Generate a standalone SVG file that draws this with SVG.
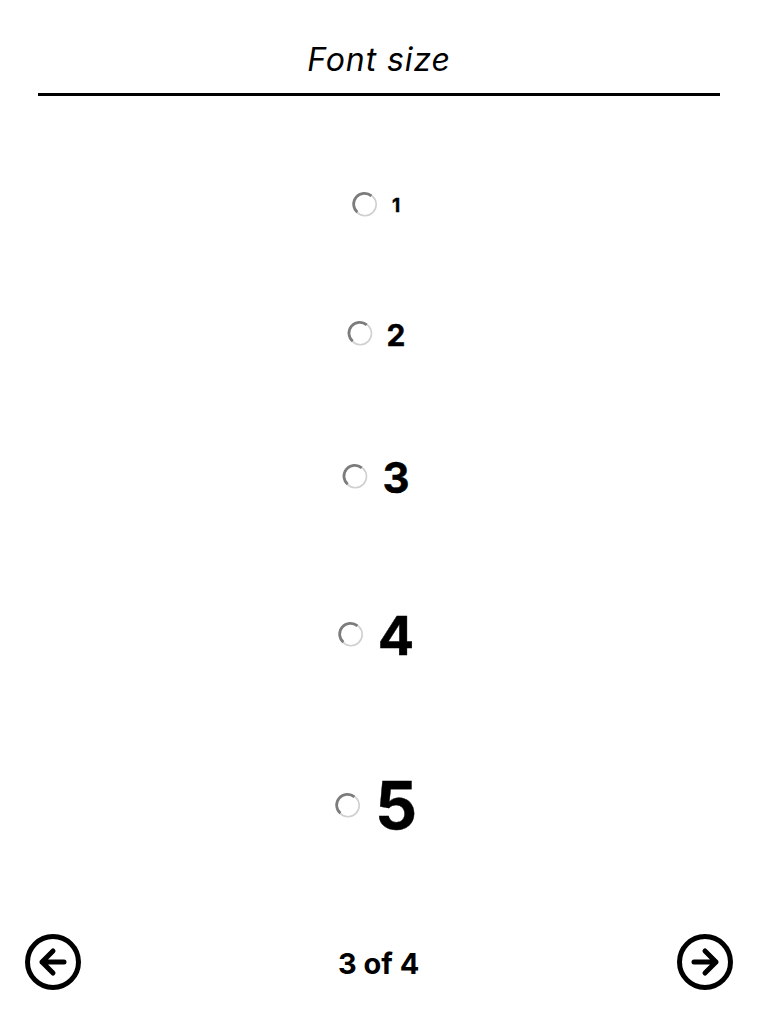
<svg xmlns="http://www.w3.org/2000/svg" width="758" height="1014" viewBox="0 0 758 1014">
<defs>
<g id="radio">
<circle r="11.2" fill="#fff" stroke="#d0d0d0" stroke-width="1.6"/>
<path d="M-7.6 7.8A10.7 10.7 0 0 1 6.4 -8.6" fill="none" stroke="#7c7c7c" stroke-width="2.7"/>
</g>
<g id="navring"><circle r="25.5" fill="#fff" stroke="#000" stroke-width="5"/></g>
</defs>
<style>
text{font-family:Inter,"Liberation Sans",sans-serif;fill:#000;text-anchor:middle}
.n{font-weight:700;stroke:#000;stroke-width:.4}
.p{font-weight:700}
.a{fill:none;stroke:#000;stroke-width:5;stroke-linecap:round;stroke-linejoin:round}
</style>
<rect width="758" height="1014" fill="#fff"/>
<g id="header">
<text x="379" y="71" font-size="32" font-weight="450" font-style="italic" letter-spacing="0.9">Font size</text>
<rect x="38" y="93" width="682" height="3" fill="#000"/>
</g>
<g id="option-1"><use href="#radio" x="365" y="204.5"/><text class="n" x="396" y="212" font-size="19">1</text></g>
<g id="option-2"><use href="#radio" x="360.3" y="333.5"/><text class="n" x="396" y="346" font-size="30">2</text></g>
<g id="option-3"><use href="#radio" x="355.3" y="476.5"/><text class="n" x="396" y="493" font-size="42">3</text></g>
<g id="option-4"><use href="#radio" x="351" y="634.5"/><text class="n" x="396" y="655" font-size="54">4</text></g>
<g id="option-5"><use href="#radio" x="348" y="805.5"/><text class="n" x="396" y="829" font-size="66">5</text></g>
<g id="nav-back"><use href="#navring" x="53" y="962"/><path class="a" d="M64 962H42M53 951L42 962L53 973"/></g>
<g id="pager"><text class="p" x="378.7" y="974" font-size="29">3 of 4</text></g>
<g id="nav-next"><use href="#navring" x="705" y="962"/><path class="a" d="M694 962H716M705 951L716 962L705 973"/></g>
</svg>
